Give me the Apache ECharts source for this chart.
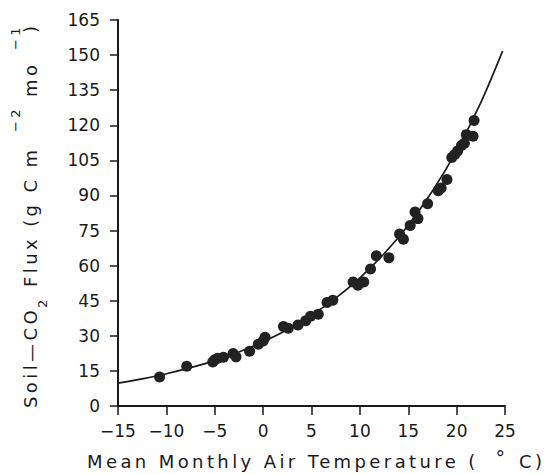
<!DOCTYPE html>
<html><head><meta charset="utf-8">
<script src="https://cdn.jsdelivr.net/npm/echarts@6/dist/echarts.min.js"></script>
<style>
html,body{margin:0;padding:0;background:#fff}
#c{width:550px;height:474px}
svg text[style*="ttlfont" i]{letter-spacing:3.4px}
</style></head><body><div id="c"></div>
<script>
// observed points: mean monthly air temperature (°C) and soil CO2 flux
const temps  = [-10.7,-7.9,-5.2,-5.0,-4.7,-4.1,-3.1,-2.8,-1.4,-0.5,0.0,0.2,2.1,2.6,3.6,4.4,4.9,5.7,6.6,7.2,9.3,9.8,10.4,11.1,11.7,13.0,14.1,14.5,15.2,15.7,16.0,17.0,18.1,18.4,19.0,19.5,19.8,20.1,20.5,20.8,21.0,21.7,21.8];
const fluxes = [12.4,17.0,18.8,19.8,20.4,20.8,22.4,21.0,23.4,26.4,27.8,29.4,34.0,33.2,34.6,36.4,38.4,39.2,44.2,45.2,53.0,51.6,53.0,58.6,64.2,63.4,73.5,71.3,77.2,82.9,80.1,86.5,92.0,93.2,96.8,106.2,107.5,109.0,111.4,112.3,116.0,115.3,122.0];
// fitted curve
const curveT    = [-15,-12.5,-10,-7.5,-5,-2.5,0,2.5,5,7.5,10,12.5,15,17.5,20,22.5,24.75];
const curveFlux = [9.8,11.6,13.8,16.4,19.4,23.1,27.5,32.6,38.8,46.1,54.8,65.1,77.3,91.9,109.2,129.7,151.7];
// axis ticks
const xTicks = [-15,-10,-5,0,5,10,15,20,25];
const yTicks = [0,15,30,45,60,75,90,105,120,135,150,165];
// axis title pieces (main text, subscripts, superscripts)
const yTitleParts = ['Soil—CO', '2', 'Flux (g C m', '−2', 'mo', '−1', ')'];
const xTitleParts = ['Mean Monthly Air Temperature (', '°', 'C)'];

const INK = '#1a1a1a';
const TF = '"DejaVu Sans", ttlfont';

function vText(text, x, y, size) {
  return {type: 'text', x: x, y: y, rotation: Math.PI / 2, silent: true,
    style: {text: text, fill: INK, fontSize: size, fontFamily: TF,
      align: 'left', verticalAlign: 'middle', textAlign: 'left', textVerticalAlign: 'middle'}};
}
function hText(text, x, y, size, align) {
  return {type: 'text', x: x, y: y, silent: true,
    style: {text: text, fill: INK, fontSize: size, fontFamily: TF,
      align: align, verticalAlign: 'middle', textAlign: align, textVerticalAlign: 'middle'}};
}

const chart = echarts.init(document.getElementById('c'), null, {renderer: 'svg'});
const axisCommon = {
  type: 'value',
  axisLine: {show: true, onZero: false, lineStyle: {color: INK, width: 2}},
  axisTick: {show: true, inside: false, lineStyle: {color: INK, width: 1.5}},
  splitLine: {show: false},
  axisLabel: {color: INK, fontSize: 17, fontFamily: 'DejaVu Sans'}
};
chart.setOption({
  animation: false,
  grid: {left: 118, right: 45, top: 20, bottom: 68},
  xAxis: Object.assign({}, axisCommon, {
    min: xTicks[0], max: xTicks[xTicks.length - 1], interval: xTicks[1] - xTicks[0],
    axisTick: Object.assign({}, axisCommon.axisTick, {length: 9}),
    axisLabel: Object.assign({}, axisCommon.axisLabel, {margin: 16,
      formatter: v => (v < 0 ? '−' + (-v) : String(v))})
  }),
  yAxis: Object.assign({}, axisCommon, {
    min: yTicks[0], max: yTicks[yTicks.length - 1], interval: yTicks[1] - yTicks[0],
    axisTick: Object.assign({}, axisCommon.axisTick, {length: 8}),
    axisLabel: Object.assign({}, axisCommon.axisLabel, {margin: 18})
  }),
  series: [
    {type: 'line', data: curveT.map((t, i) => [t, curveFlux[i]]), smooth: 0.3,
     symbol: 'none', lineStyle: {color: INK, width: 1.7}, z: 2},
    {type: 'scatter', data: temps.map((t, i) => [t, fluxes[i]]), symbol: 'circle',
     symbolSize: 11, itemStyle: {color: '#222', opacity: 1}, z: 3}
  ],
  graphic: [
    vText(yTitleParts[0], 30, 408, 18),
    vText(yTitleParts[1], 42, 308, 13),
    vText(yTitleParts[2], 30, 287, 18),
    vText(yTitleParts[3], 15, 132, 13),
    vText(yTitleParts[4], 30, 97, 18),
    vText(yTitleParts[5], 15, 50, 13),
    vText(yTitleParts[6], 30, 33, 18),
    hText(xTitleParts[0], 87, 461, 18, 'left'),
    hText(xTitleParts[1], 502, 458, 19, 'center'),
    hText(xTitleParts[2], 519, 461, 18, 'left')
  ]
});
</script></body></html>
